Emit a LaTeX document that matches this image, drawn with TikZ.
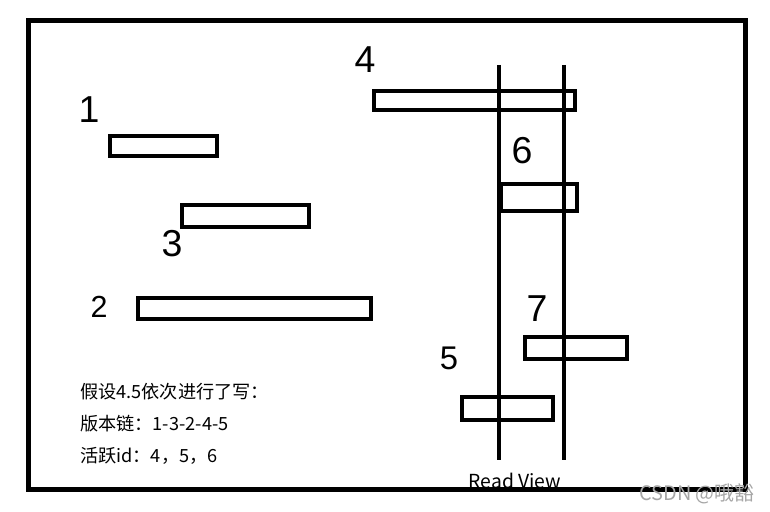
\documentclass[tikz,border=0pt]{standalone}
\usepackage{fontspec}
\setmainfont{Noto Sans CJK SC}
\newfontfamily\handfont{Liberation Sans}
\usetikzlibrary{positioning}

\begin{document}
\begin{tikzpicture}[x=0.03cm,y=-0.03cm,
	frame/.style={draw=black, line width=0.15cm},
	bar/.style={rectangle, draw=black, line width=0.12cm, inner sep=0},
	rv/.style={black, line width=0.12cm},
	num/.style={font=\handfont\fontsize{32}{32}\selectfont, inner sep=0},
	txt/.style={font=\fontsize{15.5}{17}\selectfont, inner sep=0, anchor=west}]

		\useasboundingbox (0,0) rectangle (770,512);
		%outer frame
		\draw[frame] (28.5,20.5) rectangle (745.5,490);

		%read view lines
		\coordinate (rv1top) at (499,65);
		\coordinate (rv1bot) at (499,460);
		\coordinate (rv2top) at (564,65);
		\coordinate (rv2bot) at (564,460);
		\draw[rv] (rv1top) -- (rv1bot);
		\draw[rv] (rv2top) -- (rv2bot);
		\node[font=\fontsize{16.5}{18}\selectfont, inner sep=0] at (515,481) (rvlab) {Read View};

		%versions
		\node[bar, minimum width=3.21cm, minimum height=0.6cm] at (163.5,146) (v1) {};
		\node[bar, minimum width=3.81cm, minimum height=0.66cm] at (245.5,216) (v3) {};
		\node[bar, minimum width=6.99cm, minimum height=0.63cm] at (254.5,308.5) (v2) {};
		\node[bar, minimum width=6.03cm, minimum height=0.57cm] at (474.5,100.5) (v4) {};
		\node[bar, minimum width=2.28cm, minimum height=0.81cm] at (539,197.5) (v6) {};
		\node[bar, minimum width=3.06cm, minimum height=0.66cm] at (576,348) (v7) {};
		\node[bar, minimum width=2.73cm, minimum height=0.69cm] at (507.5,408.5) (v5) {};

		%hand written numbers
		\node[num] at (89,110) (n1) {1};
		\node[num] at (172,244) (n3) {3};
		\node[num,font=\handfont\fontsize{26}{26}\selectfont] at (99,307) (n2) {2};
		\node[num] at (365,60) (n4) {4};
		\node[num] at (522,151) (n6) {6};
		\node[num] at (537,309) (n7) {7};
		\node[num,font=\handfont\fontsize{28}{28}\selectfont] at (449,358) (n5) {5};

		%notes
		\node[txt] at (80,392) (l1) {假设4.5依次进行了写：};
		\node[txt] at (80,424) (l2) {版本链：1-3-2-4-5};
		\node[txt] at (80,456) (l3) {活跃id：4，5，6};

		\node[font=\fontsize{17}{19}\selectfont, text=black!35, inner sep=0] at (697,494) (wm) {CSDN @哦豁};
	\end{tikzpicture}
\end{document}
